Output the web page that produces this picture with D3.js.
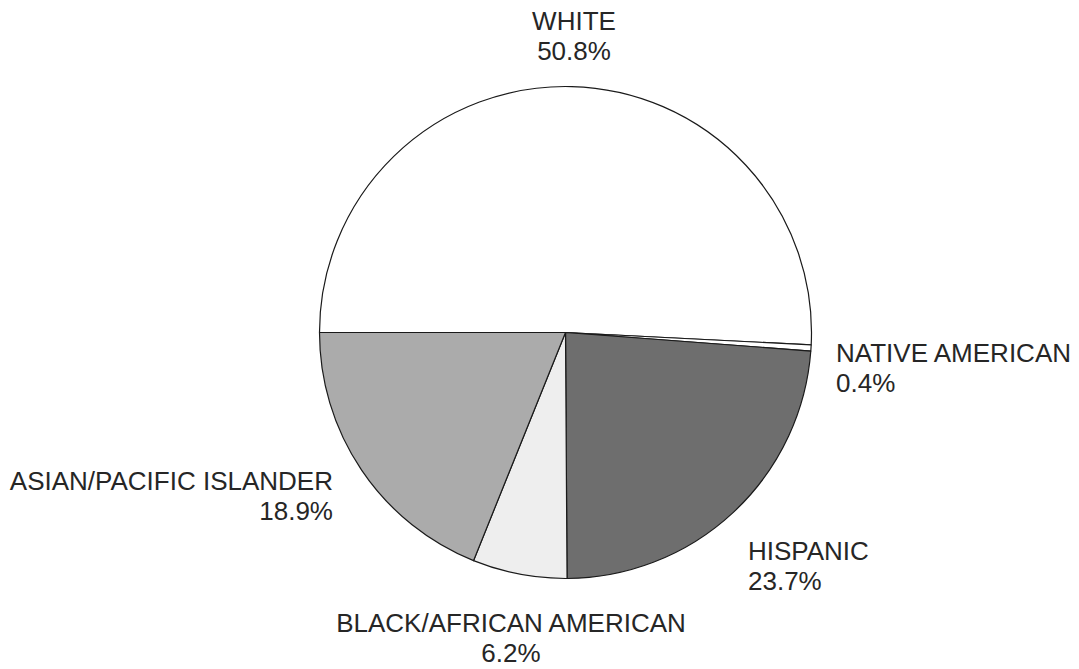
<!DOCTYPE html>
<html>
<head>
<meta charset="utf-8">
<script src="https://cdn.jsdelivr.net/npm/d3@7"></script>
<style>
  html, body { margin: 0; padding: 0; background: #ffffff; }
  svg { display: block; }
</style>
</head>
<body>
<svg id="chart" width="1079" height="669"></svg>
<script>
const categories = ["WHITE", "NATIVE AMERICAN", "HISPANIC", "BLACK/AFRICAN AMERICAN", "ASIAN/PACIFIC ISLANDER"];
const values = [50.8, 0.4, 23.7, 6.2, 18.9];
const valueLabels = ["50.8%", "0.4%", "23.7%", "6.2%", "18.9%"];
const fills = ["#ffffff", "#ffffff", "#6e6e6e", "#eeeeee", "#ababab"];

const W = 1079, H = 669;
const cx = 565.5, cy = 332.5, R = 246;

// label placement (layout only)
const labelPos = [
  { x: 574, y: 30, anchor: "middle" },
  { x: 836, y: 362, anchor: "start" },
  { x: 748, y: 560, anchor: "start" },
  { x: 511, y: 632, anchor: "middle" },
  { x: 333, y: 490, anchor: "end" }
];

const svg = d3.select("#chart");
const data = categories.map((c, i) => ({ cat: c, value: values[i], label: valueLabels[i], fill: fills[i] }));

const pie = d3.pie().value(d => d.value).sort(null)
  .startAngle(-Math.PI / 2).endAngle(3 * Math.PI / 2);
const arc = d3.arc().innerRadius(0).outerRadius(R);

const g = svg.append("g").attr("transform", `translate(${cx},${cy})`);
g.selectAll("path").data(pie(data)).enter().append("path")
  .attr("d", arc)
  .attr("fill", d => d.data.fill)
  .attr("stroke", "#1a1a1a")
  .attr("stroke-width", 1.2)
  .attr("stroke-linejoin", "round");

const labels = svg.append("g")
  .attr("font-family", "Liberation Sans, Arial, sans-serif")
  .attr("font-size", 26)
  .attr("fill", "#262626");

data.forEach((d, i) => {
  const p = labelPos[i];
  const t = labels.append("text").attr("text-anchor", p.anchor);
  t.append("tspan").attr("x", p.x).attr("y", p.y).text(d.cat);
  t.append("tspan").attr("x", p.x).attr("y", p.y + 29.5).text(d.label);
});
</script>
</body>
</html>
